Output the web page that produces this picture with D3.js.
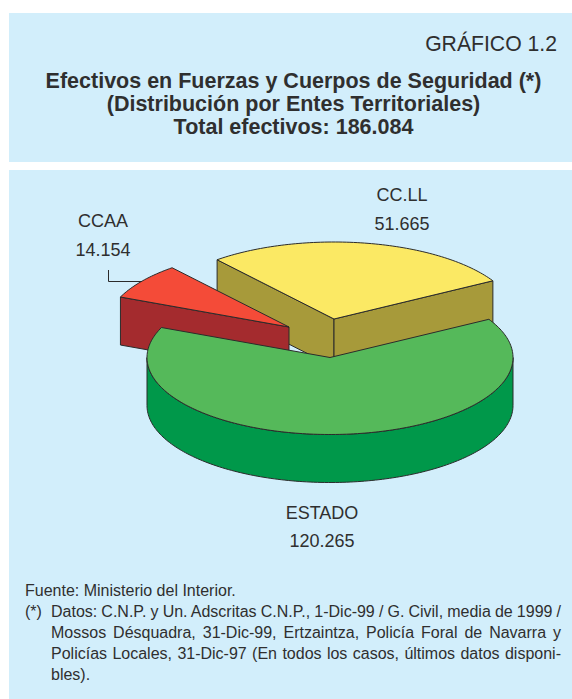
<!DOCTYPE html>
<html>
<head>
<meta charset="utf-8">
<script src="https://cdn.jsdelivr.net/npm/d3@7"></script>
<style>
  html, body { margin: 0; padding: 0; background: #fff; }
  svg { display: block; }
  text { font-family: "Liberation Sans", Arial, sans-serif; fill: #2f2f2f; }
</style>
</head>
<body>
<svg width="572" height="699"></svg>
<script>
// Data
var entes = ["CC.LL", "ESTADO", "CCAA"];
var efectivos = [51665, 120265, 14154];
var etiquetas = ["51.665", "120.265", "14.154"];
var topColors = ["#fbe964", "#55b95a", "#f44b38"];
var sideColors = ["#a79a3a", "#00984a", "#a42b2e"];
var titleLines = ["Efectivos en Fuerzas y Cuerpos de Seguridad (*)", "(Distribución por Entes Territoriales)", "Total efectivos: 186.084"];
var noteLines = [
    "Datos: C.N.P. y Un. Adscritas C.N.P., 1-Dic-99 / G. Civil, media de 1999 /",
    "Mossos Désquadra, 31-Dic-99, Ertzaintza, Policía Foral de Navarra y",
    "Policías Locales, 31-Dic-97 (En todos los casos, últimos datos disponi-",
    "bles)."
];

var svg = d3.select("svg");
var panelColor = "#d2eefb", lineColor = "#2b2b2b";

// Two background panels
svg.append("rect").attr("x", 9).attr("y", 13).attr("width", 563).attr("height", 149).attr("fill", panelColor);
svg.append("rect").attr("x", 9).attr("y", 170).attr("width", 563).attr("height", 529).attr("fill", panelColor);

// Header
svg.append("text").attr("x", 557).attr("y", 51).attr("text-anchor", "end")
    .style("font-size", "21.2px").text("GRÁFICO 1.2");
svg.selectAll(".title").data(titleLines).enter().append("text")
    .attr("class", "title")
    .attr("x", 293.5)
    .attr("y", function (d, i) { return 88 + i * 23; })
    .attr("text-anchor", "middle")
    .style("font-size", "21.5px").style("font-weight", "bold")
    .text(function (d) { return d; });

// Pie geometry: flattened circle, each slice pulled out on its own
var rx = 183, ry = 77, depth = 48;
var offsets = [[334, 319], [330, 357.5], [289, 327]];
var startDeg = -39.7;

var pie = d3.pie().sort(null)
    .startAngle(startDeg * Math.PI / 180)
    .endAngle(startDeg * Math.PI / 180 + 2 * Math.PI);
var slices = pie(efectivos);

var sx = d3.scaleLinear().domain([-1, 1]).range([-rx, rx]);
var sy = d3.scaleLinear().domain([-1, 1]).range([-ry, ry]);

function px(a) { return sx(Math.sin(a)); }
function py(a) { return sy(-Math.cos(a)); }

var wallLine = d3.line().x(function (d) { return d[0]; }).y(function (d) { return d[1]; });

function radialFace(a) {
    return wallLine([[0, 0], [px(a), py(a)], [px(a), py(a) + depth], [0, depth]]) + "Z";
}

function outerWall(a0, a1) { // only the part that faces the viewer
    var from = Math.max(a0, Math.PI / 2), to = Math.min(a1, 3 * Math.PI / 2);
    if (from >= to) return null;
    var angles = d3.range(from, to, 0.02).concat([to]);
    var upper = angles.map(function (a) { return [px(a), py(a)]; });
    var lower = angles.slice().reverse().map(function (a) { return [px(a), py(a) + depth]; });
    return wallLine(upper.concat(lower)) + "Z";
}

function topFace(a0, a1) {
    var angles = d3.range(a0, a1, 0.02).concat([a1]);
    return wallLine([[0, 0]].concat(angles.map(function (a) { return [px(a), py(a)]; }))) + "Z";
}

// Yellow first, then red, green on top
[0, 2, 1].forEach(function (i) {
    var s = slices[i];
    var g = svg.append("g").attr("transform", "translate(" + offsets[i][0] + "," + offsets[i][1] + ")");
    var walls = [];
    if (Math.sin(s.startAngle) < 0) walls.push(radialFace(s.startAngle));
    if (Math.sin(s.endAngle) > 0) walls.push(radialFace(s.endAngle));
    var w = outerWall(s.startAngle, s.endAngle);
    if (w) walls.push(w);
    walls.forEach(function (d) {
        g.append("path").attr("d", d).attr("fill", sideColors[i])
            .attr("stroke", lineColor).attr("stroke-width", 1).attr("stroke-linejoin", "round");
    });
    g.append("path").attr("d", topFace(s.startAngle, s.endAngle)).attr("fill", topColors[i])
        .attr("stroke", lineColor).attr("stroke-width", 1).attr("stroke-linejoin", "round");
});

// Slice labels
var labelPos = [[402, 201, 230], [322, 519, 547], [103, 227, 256]];
entes.forEach(function (name, i) {
    svg.append("text").attr("x", labelPos[i][0]).attr("y", labelPos[i][1]).attr("text-anchor", "middle")
        .style("font-size", "18px").text(name);
    svg.append("text").attr("x", labelPos[i][0]).attr("y", labelPos[i][2]).attr("text-anchor", "middle")
        .style("font-size", "18px").text(etiquetas[i]);
});

// Leader for CCAA
svg.append("path").attr("d", "M108.5,270V281.5H142").attr("fill", "none")
    .attr("stroke", lineColor).attr("stroke-width", 1);

// Notes
var noteSize = "16px";
svg.append("text").attr("x", 25).attr("y", 596).style("font-size", noteSize).text("Fuente: Ministerio del Interior.");
svg.append("text").attr("x", 25).attr("y", 617).style("font-size", noteSize).text("(*)");
svg.selectAll(".note").data(noteLines).enter().append("text")
    .attr("class", "note")
    .attr("x", 51)
    .attr("y", function (d, i) { return 617 + i * 21; })
    .style("font-size", noteSize)
    .text(function (d) { return d; })
    .each(function (d, i) { // justify all but the last line
        if (i === noteLines.length - 1) return;
        var gaps = d.split(" ").length - 1;
        var extra = (510 - this.getComputedTextLength()) / gaps;
        d3.select(this).style("word-spacing", extra + "px");
    });
</script>
</body>
</html>
